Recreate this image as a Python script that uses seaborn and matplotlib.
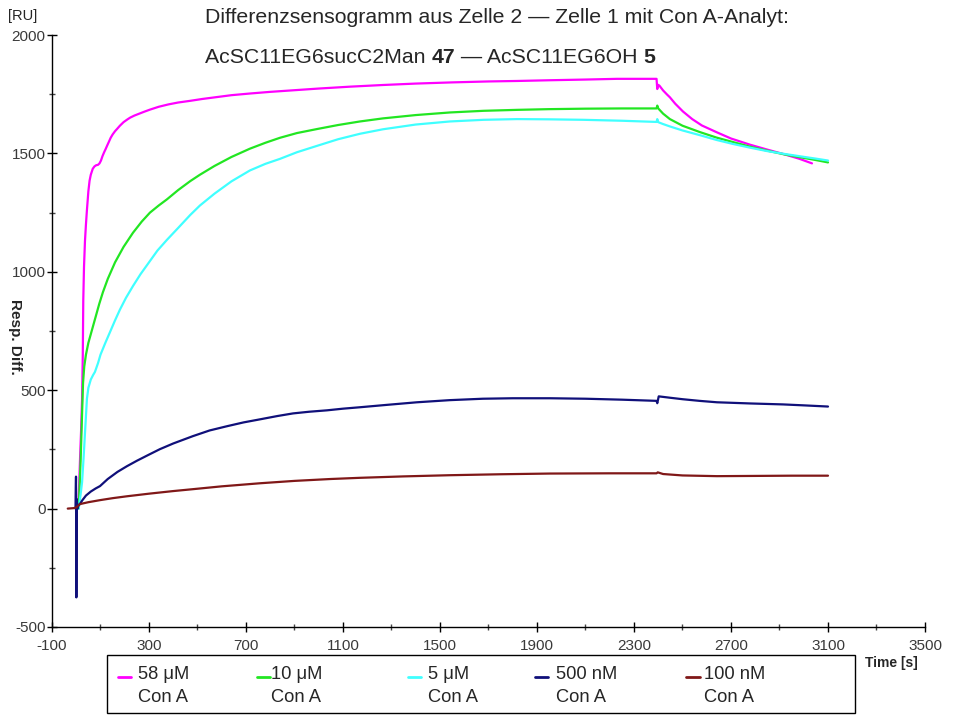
import numpy as np
import pandas as pd
import matplotlib
matplotlib.use('Agg')
import matplotlib.pyplot as plt
from matplotlib.lines import Line2D
from matplotlib.patches import Rectangle
from matplotlib.ticker import FixedLocator
import seaborn as sns

# sensogram traces (time in s, response in RU)
t_58uM = [8, 12, 16, 20, 24, 27, 29, 32, 36, 40, 44, 50, 55, 60, 68, 75, 82, 90, 96, 102,
          108, 115, 121, 127, 135, 142, 150, 160, 168, 180, 195, 210, 222, 240, 260, 280,
          304, 340, 380, 420, 469, 520, 580, 640, 716, 800, 900, 1000, 1130, 1265, 1400,
          1550, 1700, 1818, 1950, 2100, 2230, 2393, 2394, 2396, 2399, 2405, 2420, 2435,
          2448, 2470, 2502, 2540, 2580, 2642, 2700, 2778, 2850, 2914, 2980, 3034]
v_58uM = [0, 100, 220, 330, 460, 650, 880, 1020, 1130, 1200, 1260, 1340, 1385, 1410, 1435,
          1445, 1450, 1452, 1458, 1470, 1488, 1505, 1518, 1532, 1550, 1566, 1580, 1594,
          1603, 1617, 1632, 1643, 1651, 1660, 1668, 1676, 1685, 1697, 1707, 1715, 1722,
          1730, 1738, 1746, 1753, 1760, 1767, 1774, 1782, 1789, 1795, 1800, 1804, 1806,
          1809, 1812, 1815, 1815, 1800, 1772, 1790, 1786, 1766, 1750, 1737, 1710, 1677,
          1645, 1618, 1589, 1563, 1537, 1516, 1498, 1478, 1458]

t_10uM = [10, 14, 18, 21, 24, 28, 33, 40, 50, 65, 80, 95, 110, 130, 160, 195, 234, 270, 304,
          340, 374, 420, 470, 510, 570, 640, 716, 780, 840, 910, 993, 1080, 1170, 1265, 1400,
          1541, 1680, 1818, 1950, 2100, 2250, 2393, 2396, 2400, 2420, 2448, 2500, 2572,
          2640, 2708, 2780, 2848, 2920, 2984, 3050, 3100]
v_10uM = [0, 100, 200, 300, 400, 530, 600, 650, 700, 755, 810, 865, 914, 970, 1040, 1105,
          1165, 1212, 1250, 1280, 1306, 1345, 1383, 1410, 1447, 1485, 1520, 1545, 1566, 1586,
          1603, 1620, 1635, 1648, 1662, 1673, 1680, 1684, 1687, 1689, 1690, 1690, 1702, 1690,
          1668, 1645, 1617, 1590, 1567, 1548, 1528, 1512, 1496, 1484, 1472, 1462]

t_5uM = [10, 14, 18, 24, 30, 35, 40, 44, 50, 60, 70, 77, 90, 100, 120, 139, 160, 180, 205,
         234, 265, 300, 335, 374, 420, 470, 510, 570, 640, 716, 780, 840, 910, 993, 1080,
         1170, 1265, 1400, 1541, 1680, 1818, 1950, 2090, 2250, 2393, 2396, 2400, 2420, 2448,
         2500, 2572, 2640, 2708, 2780, 2848, 2920, 2984, 3050, 3100]
v_5uM = [0, 30, 60, 111, 210, 300, 390, 463, 510, 545, 565, 577, 615, 650, 700, 745, 795,
         840, 890, 940, 990, 1040, 1090, 1135, 1185, 1240, 1280, 1330, 1382, 1428, 1456, 1477,
         1505, 1532, 1560, 1583, 1602, 1622, 1635, 1642, 1645, 1644, 1642, 1638, 1633, 1645,
         1632, 1624, 1614, 1597, 1577, 1557, 1540, 1524, 1510, 1498, 1488, 1478, 1470]

t_500nM = [-3, -1, 0.5, 2, 5, 10, 15, 25, 40, 60, 80, 98, 130, 170, 209, 250, 300, 345, 400,
           481, 550, 622, 690, 758, 830, 894, 960, 1034, 1100, 1170, 1280, 1405, 1540, 1677,
           1800, 1954, 2100, 2250, 2393, 2396, 2402, 2450, 2500, 2570, 2642, 2780, 2914, 3000,
           3100]
v_500nM = [0, 135, -375, 40, 0, 15, 19, 35, 55, 72, 85, 95, 125, 155, 179, 202, 228, 251,
           275, 306, 330, 348, 364, 377, 391, 402, 409, 415, 422, 428, 438, 449, 458, 464,
           466, 466, 464, 460, 455, 445, 474, 468, 462, 455, 449, 444, 440, 436, 431]

t_100nM = [-35, -10, 0, 15, 50, 100, 150, 209, 300, 400, 481, 600, 758, 900, 1050, 1170,
           1350, 1541, 1750, 1954, 2200, 2393, 2398, 2420, 2500, 2642, 2800, 2950, 3100]
v_100nM = [0, 2, 5, 19, 27, 36, 44, 52, 63, 74, 82, 94, 107, 117, 125, 130, 136, 141, 145,
           148, 149, 149, 153, 146, 140, 137, 138, 139, 139]

labels = ['58 μM\nCon A', '10 μM\nCon A', '5 μM\nCon A', '500 nM\nCon A', '100 nM\nCon A']
colors = ['#ff00ff', '#22e622', '#40ffff', '#10107a', '#801818']

x_ticks = list(range(-100, 3501, 400))
y_ticks = list(range(-500, 2001, 500))

frames = []
for lab, t, v in zip(labels, [t_58uM, t_10uM, t_5uM, t_500nM, t_100nM],
                     [v_58uM, v_10uM, v_5uM, v_500nM, v_100nM]):
    frames.append(pd.DataFrame({'Time': t, 'Resp': v, 'Analyt': lab}))
df = pd.concat(frames, ignore_index=True)

sns.set_style('ticks')
plt.rcParams['font.family'] = ['Liberation Sans', 'DejaVu Sans']
plt.rcParams['axes.unicode_minus'] = False

fig = plt.figure(figsize=(9.54, 7.15), dpi=100)
ax = fig.add_axes([0.0545, 0.1231, 0.9151, 0.8279])

sns.lineplot(data=df, x='Time', y='Resp', hue='Analyt', hue_order=labels,
             palette=dict(zip(labels, colors)), sort=False, estimator=None,
             linewidth=1.6, legend=False, ax=ax)

ax.set_xlim(-100, 3500)
ax.set_ylim(-500, 2000)
ax.set_xticks(x_ticks)
ax.set_yticks(y_ticks)
ax.xaxis.set_minor_locator(FixedLocator(np.arange(100, 3500, 400)))
ax.yaxis.set_minor_locator(FixedLocator(np.arange(-250, 2000, 500)))
ax.tick_params(which='major', direction='inout', length=7, width=1, color='black',
               labelsize=11, labelcolor='#3a3a3a', pad=1)
ax.tick_params(axis='x', which='major', pad=5)
ax.tick_params(which='minor', direction='inout', length=4, width=1, color='#444444')
ax.set_xlabel('')
ax.set_ylabel('')
for side in ['top', 'right']:
    ax.spines[side].set_visible(False)
for side in ['left', 'bottom']:
    ax.spines[side].set_color('black')
    ax.spines[side].set_linewidth(1)

fig.text(0.008, 0.988, '[RU]', fontsize=10.5, va='top', ha='left')
fig.text(0.016, 0.529, 'Resp. Diff.', fontsize=11, fontweight='bold', rotation=270,
         va='center', ha='center')
fig.text(0.907, 0.073, 'Time [s]', fontsize=10, fontweight='bold', va='center', ha='left')


def rich_line(x, y, parts, size):
    renderer = fig.canvas.get_renderer()
    for s, w in parts:
        txt = fig.text(x, y, s, fontsize=size, fontweight=w, va='center', ha='left')
        bb = txt.get_window_extent(renderer)
        x += bb.width / fig.bbox.width


rich_line(0.2149, 0.975, [('Differenzsensogramm aus Zelle 2 — Zelle 1 mit Con A-Analyt:', 'normal')], 15.3)
rich_line(0.2149, 0.919, [('AcSC11EG6sucC2Man ', 'normal'), ('47', 'bold'),
                          (' — AcSC11EG6OH ', 'normal'), ('5', 'bold')], 15.3)

# legend box below the axes, one two-line entry per concentration
W, H = 954, 715
fig.add_artist(Rectangle((107 / W, 1 - 713 / H), 748 / W, 58 / H, transform=fig.transFigure,
                         fill=False, edgecolor='black', linewidth=1))
handle_x = [(118, 131), (257, 270), (408, 421), (535, 548), (686, 700)]
text_x = [138, 271, 428, 556, 704]
for (x0, x1), tx, lab, c in zip(handle_x, text_x, labels, colors):
    fig.add_artist(Line2D([x0 / W, x1 / W], [1 - 677 / H] * 2, transform=fig.transFigure,
                          color=c, linewidth=2))
    fig.text(tx / W, 1 - 686 / H, lab, fontsize=13.2, va='center', ha='left', linespacing=1.42)

fig.savefig('out.png', dpi=100)
